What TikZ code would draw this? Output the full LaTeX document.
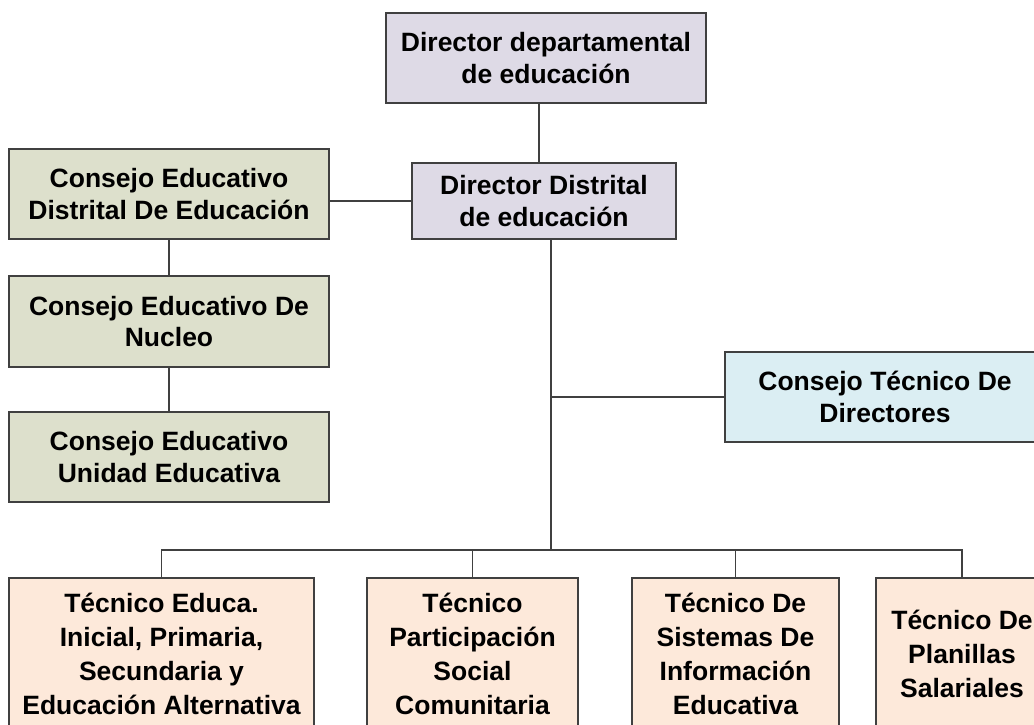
\documentclass[tikz,border=0pt]{standalone}
\usepackage{fontspec}
\setmainfont{Liberation Sans}
\definecolor{lav}{RGB}{222,218,230}
\definecolor{olv}{RGB}{221,224,204}
\definecolor{skyb}{RGB}{219,238,243}
\definecolor{pch}{RGB}{253,233,218}
\definecolor{edge}{RGB}{64,64,64}
\begin{document}
\begin{tikzpicture}[x=1pt,y=-1pt,
  box/.style={draw=edge,line width=1.1pt,align=center,inner sep=0pt,
    font=\fontsize{26.5}{31.5}\selectfont\bfseries},
  lowbox/.style={box,fill=pch,minimum height=152pt,
    font=\fontsize{26.5}{34}\selectfont\bfseries},
  conn/.style={draw=edge,line width=1.1pt}]
\useasboundingbox (0,0) rectangle (1034,724);
\clip (0,0) rectangle (1034,724);
\node[box,fill=lav,minimum width=320pt,minimum height=90pt] (top) at (546,58) {Director departamental\\de educación};
\node[box,fill=lav,minimum width=264pt,minimum height=76pt] (dist) at (544,201) {Director Distrital\\de educación};
\node[box,fill=olv,minimum width=320pt,minimum height=90pt] (ced) at (169,194) {Consejo Educativo\\Distrital De Educación};
\node[box,fill=olv,minimum width=320pt,minimum height=91pt] (cen) at (169,321.5) {Consejo Educativo De\\Nucleo};
\node[box,fill=olv,minimum width=320pt,minimum height=90pt] (ceu) at (169,457) {Consejo Educativo\\Unidad Educativa};
\node[box,fill=skyb,minimum width=320pt,minimum height=90pt] (ctd) at (885,397) {Consejo Técnico De\\Directores};
\node[lowbox,minimum width=305pt] (b1) at (161.5,654) {Técnico Educa.\\Inicial, Primaria,\\Secundaria y\\Educación Alternativa};
\node[lowbox,minimum width=211pt] (b2) at (472.5,654) {Técnico\\Participación\\Social\\Comunitaria};
\node[lowbox,minimum width=207pt] (b3) at (735.5,654) {Técnico De\\Sistemas De\\Información\\Educativa};
\node[lowbox,minimum width=172pt] (b4) at (962,654) {Técnico De\\Planillas\\Salariales};
\coordinate (bus) at (551,550);
\path[conn] ([xshift=-7pt]top.south) -- ([xshift=-5pt]dist.north);
\path[conn] ([xshift=7pt]dist.south) -- (bus);
\path[conn] (dist.west -| ced.east) -- (dist.west);
\path[conn] (ced.south) -- (cen.north);
\path[conn] (cen.south) -- (ceu.north);
\path[conn] (ctd.west -| bus) -- (ctd.west);
\path[conn] (b1.north) |- (bus) -| (b4.north);
\path[conn] (b2.north) -- (b2.north |- bus);
\path[conn] (b3.north) -- (b3.north |- bus);
\end{tikzpicture}
\end{document}
